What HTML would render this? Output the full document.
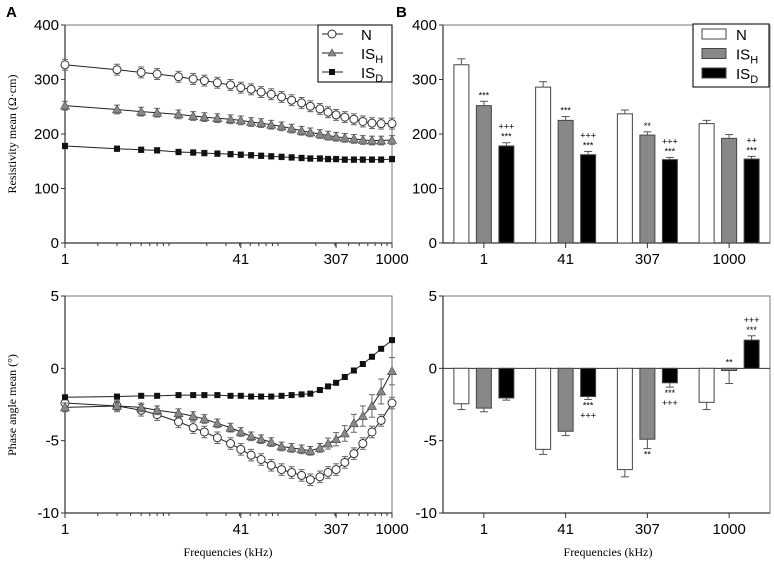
<!DOCTYPE html>
<html><head><meta charset="utf-8"><style>
body{margin:0;background:#fff}
svg text{font-family:"Liberation Sans",sans-serif}
.serif{font-family:"Liberation Serif",serif}
</style></head><body>
<svg id="fig" width="774" height="564" viewBox="0 0 774 564" xmlns="http://www.w3.org/2000/svg">
<text x="6" y="17" font-size="15" font-weight="bold">A</text>
<text x="396" y="17" font-size="15" font-weight="bold">B</text>
<text class="serif" transform="translate(16,134) rotate(-90)" text-anchor="middle" font-size="12">Resistivity mean (Ω·cm)</text>
<text class="serif" transform="translate(16,405) rotate(-90)" text-anchor="middle" font-size="12">Phase angle mean (°)</text>
<text class="serif" x="228" y="556" text-anchor="middle" font-size="12">Frequencies (kHz)</text>
<text class="serif" x="608" y="556" text-anchor="middle" font-size="12">Frequencies (kHz)</text>
</svg>
<script>
const freqs=[1,3,5,7,11,15,19,25,33,41,51,63,78,97,120,148,178,218,259,307,369,447,540,655,795,1000];
const resN=[327,318,313,310,305,301,298,294,290,285,282,277,273,268,262,257,251,246,240,235,231,227,223,220,219,219];
const resH=[252,245,241,239,236,233,231,229,227,225,222,220,217,214,210,206,203,200,197,195,193,191,189,188,188,189];
const resD=[178,173,171,170,167,166,165,164,163,162,161,160,159,158,157,156,155,155,154,154,153,153,153,153,153,154];
const phN=[-2.4,-2.6,-2.9,-3.2,-3.7,-4.1,-4.4,-4.8,-5.2,-5.6,-6.0,-6.3,-6.7,-7.0,-7.2,-7.4,-7.7,-7.5,-7.2,-7.0,-6.5,-5.9,-5.2,-4.4,-3.6,-2.4];
const phH=[-2.7,-2.6,-2.7,-2.9,-3.1,-3.3,-3.5,-3.8,-4.1,-4.4,-4.7,-4.9,-5.1,-5.4,-5.5,-5.6,-5.7,-5.5,-5.2,-4.9,-4.5,-3.8,-3.3,-2.6,-1.6,-0.2];
const phD=[-2.0,-1.95,-1.9,-1.9,-1.85,-1.85,-1.85,-1.85,-1.9,-1.9,-1.95,-1.95,-1.95,-1.9,-1.85,-1.8,-1.75,-1.5,-1.25,-1.0,-0.6,-0.15,0.3,0.8,1.35,1.95];
const resErr=[10,8,5];
const phErr=[0.4,0.35,0.15];
const xTicks=[1,41,307,1000];
const resTicks=[0,100,200,300,400];
const phTicks=[-10,-5,0,5];
const groups=["1","41","307","1000"];
const barResN=[327,286,237,219], barResH=[252,225,198,192], barResD=[178,162,153,154];
const barResNe=[11,10,7,6], barResHe=[8,7,6,7], barResDe=[6,6,4,5];
const barPhN=[-2.45,-5.6,-7.0,-2.35], barPhH=[-2.75,-4.35,-4.9,-0.15], barPhD=[-2.05,-1.95,-1.0,1.95];
const barPhNe=[0.4,0.35,0.5,0.5], barPhHe=[0.25,0.3,0.65,0.9], barPhDe=[0.15,0.2,0.3,0.3];
const resAnnH=["***","***","**",""], resAnnD=["+++|***","+++|***","+++|***","++|***"];
const phAnnH=["","","**","**"], phAnnD=["","***|+++","***|+++","+++|***"];

const svg=document.getElementById('fig');
const NS="http://www.w3.org/2000/svg";
function mk(tag,attrs,parent){const e=document.createElementNS(NS,tag);for(const k in attrs)e.setAttribute(k,attrs[k]);(parent||svg).appendChild(e);return e;}
const X0=65,X1=392,BX0=443,BX1=770;
const RT=25,RB=243,PT=296,PB=513;
function xLog(f){return X0+Math.log10(f)/3*(X1-X0);}
function yRes(v){return RB-v/400*(RB-RT);}
function yPh(v){return PT+(5-v)/15*(PB-PT);}
function bandC(i){return BX0+(BX1-BX0)/4*(i+0.5);}

function frame(x0,x1,t,b,name){
  const g=mk('g',{});
  
  
  mk('rect',{x:x0,y:t,width:x1-x0,height:b-t,fill:'none',stroke:'#777','stroke-width':1},g);
  mk('line',{x1:x0,y1:t,x2:x0,y2:b,stroke:'#333','stroke-width':1.2},g);
  mk('line',{x1:x0,y1:b,x2:x1,y2:b,stroke:'#333','stroke-width':1.2},g);
  return g;
}
function yAxis(x,ticks,fy,name){
  const g=mk('g',{});
  
  
  ticks.forEach(t=>{const y=fy(t);mk('line',{x1:x-4,y1:y,x2:x,y2:y,stroke:'#333'},g);
    const tx=mk('text',{x:x-6,y:y+5,'text-anchor':'end','font-size':15},g);tx.textContent=t;});
}
function logXAxis(yb,name){
  const g=mk('g',{});
  
  
  for(let d=1;d<=100;d*=10)for(let m=2;m<=9;m++){const x=xLog(d*m);mk('line',{x1:x,y1:yb,x2:x,y2:yb+3,stroke:'#333'},g);}
  xTicks.forEach(t=>{const x=xLog(t);mk('line',{x1:x,y1:yb,x2:x,y2:yb+5,stroke:'#333'},g);
    const tx=mk('text',{x:x,y:yb+21,'text-anchor':'middle','font-size':15},g);tx.textContent=t;});
}
function lineSeries(vals,err,fx,fy,type,name){
  const g=mk('g',{});
  
  
  mk('polyline',{points:vals.map((v,i)=>fx(freqs[i])+','+fy(v)).join(' '),fill:'none',stroke:'#222','stroke-width':1},g);
  vals.forEach((v,i)=>{const x=fx(freqs[i]);
    const e=typeof err==='function'?err(i):err;
    const y1=fy(v+e),y2=fy(v-e);
    mk('line',{x1:x,y1:y1,x2:x,y2:y2,stroke:'#666'},g);
    mk('line',{x1:x-3,y1:y1,x2:x+3,y2:y1,stroke:'#666'},g);
    mk('line',{x1:x-3,y1:y2,x2:x+3,y2:y2,stroke:'#666'},g);});
  vals.forEach((v,i)=>{const x=fx(freqs[i]),y=fy(v);let m;
    if(type==='o')m=mk('circle',{cx:x,cy:y,r:4,fill:'#fff',stroke:'#333'},g);
    else if(type==='t')m=mk('polygon',{points:`${x},${y-4.5} ${x-4.5},${y+3.5} ${x+4.5},${y+3.5}`,fill:'#888',stroke:'#444','stroke-width':0.6},g);
    else m=mk('rect',{x:x-3,y:y-3,width:6,height:6,fill:'#111'},g);
    
    });
}
function legendLine(x,y,name){
  const g=mk('g',{});
  
  
  mk('rect',{x:x,y:y,width:74,height:57,fill:'#fff',stroke:'#222','stroke-width':1.2},g);
  const items=[['o','N'],['t','IS','H'],['s','IS','D']];
  items.forEach((it,i)=>{const cy=y+9+i*19;const cx=x+14;
    mk('line',{x1:x+4,y1:cy,x2:x+25,y2:cy,stroke:'#222'},g);
    if(it[0]==='o')mk('circle',{cx:cx,cy:cy,r:4,fill:'#fff',stroke:'#333'},g);
    else if(it[0]==='t')mk('polygon',{points:`${cx},${cy-4} ${cx-4},${cy+3} ${cx+4},${cy+3}`,fill:'#888',stroke:'#444','stroke-width':0.6},g);
    else mk('rect',{x:cx-3,y:cy-3,width:6,height:6,fill:'#111'},g);
    const t=mk('text',{x:x+43,y:cy+6,'font-size':15},g);t.textContent=it[1];
    if(it[2]){const s=mk('tspan',{'font-size':11,dy:4},t);s.textContent=it[2];}});
}
function legendBar(x,y,name){
  const g=mk('g',{});
  
  
  mk('rect',{x:x,y:y,width:76,height:63,fill:'#fff',stroke:'#222','stroke-width':1.2},g);
  [['#fff','N'],['#888','IS','H'],['#000','IS','D']].forEach((it,i)=>{const cy=y+10+i*19.5;
    mk('rect',{x:x+9,y:cy-5,width:24,height:10,fill:it[0],stroke:'#444'},g);
    const t=mk('text',{x:x+43,y:cy+6,'font-size':15},g);t.textContent=it[1];
    if(it[2]){const s=mk('tspan',{'font-size':11,dy:4},t);s.textContent=it[2];}});
}
function ann(x,y,str,below,g){
  const parts=str.split('|');
  parts.forEach((p,k)=>{const t=mk('text',{x:x,y:below?y+9+k*10:y-3-(parts.length-1-k)*10,'text-anchor':'middle','font-size':9},g);t.textContent=p;});
}
function barChart(series,errs,fills,fy,zero,annH,annD,yb,name){
  const g=mk('g',{});
  
  
  series.forEach((vals,s)=>{vals.forEach((v,i)=>{
    const cx=bandC(i)+(s-1)*22.5;const y0=fy(zero),y=fy(v);
    const r=mk('rect',{x:cx-7.5,y:Math.min(y,y0),width:15,height:Math.abs(y0-y),fill:fills[s],stroke:'#444','stroke-width':1},g);
    
    
    const e=errs[s][i];const ye=fy(v+(v>=0?e:-e));
    mk('line',{x1:cx,y1:y,x2:cx,y2:ye,stroke:'#555'},g);
    mk('line',{x1:cx-4,y1:ye,x2:cx+4,y2:ye,stroke:'#555'},g);
    const a=s===1?annH[i]:s===2?annD[i]:'';
    if(a){const below=v<-0.5;ann(cx,below?ye:Math.min(ye,fy(zero)),a,below,g);}
  });});
  groups.forEach((lab,i)=>{const x=bandC(i);mk('line',{x1:x,y1:yb,x2:x,y2:yb+5,stroke:'#333'},g);
    const t=mk('text',{x:x,y:yb+21,'text-anchor':'middle','font-size':15},g);t.textContent=lab;});
}
frame(X0,X1,RT,RB,'resistivity-line-plot-frame');
yAxis(X0,resTicks,yRes,'resistivity-y-axis');
logXAxis(RB,'resistivity-x-axis');
lineSeries(resN,resErr[0],xLog,yRes,'o','resistivity-n-series');
lineSeries(resH,resErr[1],xLog,yRes,'t','resistivity-ish-series');
lineSeries(resD,resErr[2],xLog,yRes,'s','resistivity-isd-series');
legendLine(318,25,'line-legend');
frame(X0,X1,PT,PB,'phase-line-plot-frame');
yAxis(X0,phTicks,yPh,'phase-y-axis');
logXAxis(PB,'phase-x-axis');
lineSeries(phN,phErr[0],xLog,yPh,'o','phase-n-series');
lineSeries(phH,i=>0.3+Math.max(0,i-17)*0.08,xLog,yPh,'t','phase-ish-series');
lineSeries(phD,phErr[2],xLog,yPh,'s','phase-isd-series');
frame(BX0,BX1,RT,RB,'resistivity-bar-plot-frame');
yAxis(BX0,resTicks,yRes,'resistivity-bar-y-axis');
barChart([barResN,barResH,barResD],[barResNe,barResHe,barResDe],['#fff','#888','#000'],yRes,0,resAnnH,resAnnD,RB,'resistivity-bars');
legendBar(693,24,'bar-legend');
frame(BX0,BX1,PT,PB,'phase-bar-plot-frame');
yAxis(BX0,phTicks,yPh,'phase-bar-y-axis');
const zl=mk('line',{x1:BX0,y1:yPh(0),x2:BX1,y2:yPh(0),stroke:'#333'});


barChart([barPhN,barPhH,barPhD],[barPhNe,barPhHe,barPhDe],['#fff','#888','#000'],yPh,0,phAnnH,phAnnD,PB,'phase-bars');
</script>
</body></html>
